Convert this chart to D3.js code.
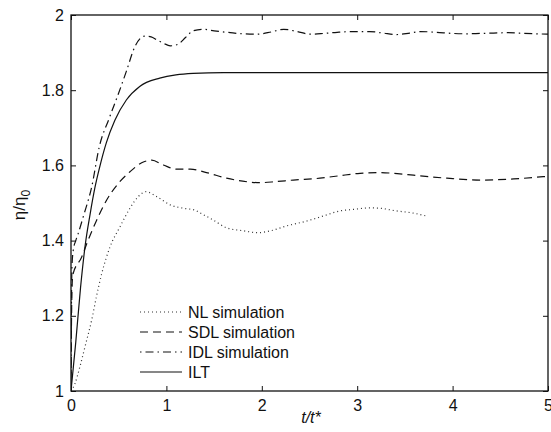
<!DOCTYPE html>
<html>
<head>
<meta charset="utf-8">
<script src="https://cdn.jsdelivr.net/npm/d3@7"></script>
<style>
  body { margin: 0; background: #fff; }
  svg { display: block; }
  text { font-family: "Liberation Sans", Arial, Helvetica, sans-serif; fill: #111; }
</style>
</head>
<body>
<svg id="chart" width="551" height="432"></svg>
<script>
// axis ticks
const xTicks = [0, 1, 2, 3, 4, 5];
const yTicks = [1, 1.2, 1.4, 1.6, 1.8, 2];

// NL simulation (dotted)
const nlT = [0, 0.042, 0.094, 0.147, 0.217, 0.27, 0.32, 0.41, 0.514, 0.618, 0.705, 0.786, 0.898, 1.04, 1.18, 1.3, 1.35, 1.49, 1.63, 1.81, 1.96, 2.09, 2.26, 2.47, 2.64, 2.82, 2.96, 3.13, 3.24, 3.41, 3.59, 3.73];
const nlV = [1.0, 1.02, 1.065, 1.118, 1.189, 1.255, 1.31, 1.384, 1.437, 1.486, 1.517, 1.53, 1.517, 1.495, 1.486, 1.481, 1.474, 1.455, 1.434, 1.426, 1.421, 1.426, 1.439, 1.452, 1.465, 1.479, 1.483, 1.487, 1.486, 1.479, 1.473, 1.465];

// SDL simulation (dashed)
const sdlT = [0, 0.004, 0.01, 0.02, 0.11, 0.17, 0.27, 0.374, 0.496, 0.618, 0.741, 0.846, 0.968, 1.108, 1.25, 1.42, 1.63, 1.8, 1.98, 2.15, 2.33, 2.61, 2.8, 3.03, 3.24, 3.42, 3.59, 3.94, 4.29, 4.64, 4.95, 5.0];
const sdlV = [1.0, 1.15, 1.27, 1.31, 1.355, 1.395, 1.455, 1.508, 1.552, 1.583, 1.607, 1.614, 1.601, 1.59, 1.59, 1.581, 1.566, 1.558, 1.554, 1.557, 1.561, 1.566, 1.572, 1.579, 1.581, 1.578, 1.574, 1.566, 1.561, 1.564, 1.57, 1.571];

// IDL simulation (dash-dot)
const idlT = [0, 0.004, 0.01, 0.024, 0.05, 0.077, 0.129, 0.217, 0.297, 0.4, 0.496, 0.58, 0.67, 0.776, 0.84, 0.9, 0.97, 1.04, 1.12, 1.2, 1.28, 1.38, 1.5, 1.67, 1.8, 1.95, 2.1, 2.23, 2.37, 2.51, 2.65, 2.79, 2.95, 3.13, 3.27, 3.41, 3.55, 3.66, 3.83, 4.0, 4.15, 4.29, 4.43, 4.57, 4.75, 5.0];
const idlV = [1.0, 1.2, 1.33, 1.375, 1.40, 1.42, 1.464, 1.543, 1.65, 1.725, 1.79, 1.85, 1.916, 1.944, 1.942, 1.934, 1.925, 1.918, 1.922, 1.94, 1.958, 1.962, 1.958, 1.953, 1.95, 1.949, 1.955, 1.962, 1.956, 1.949, 1.951, 1.954, 1.956, 1.956, 1.952, 1.948, 1.952, 1.956, 1.954, 1.951, 1.95, 1.951, 1.952, 1.953, 1.951, 1.949];

// ILT (solid)
const iltT = [0, 0.05, 0.1, 0.15, 0.2, 0.25, 0.3, 0.37, 0.46, 0.58, 0.72, 0.93, 1.1, 1.28, 1.6, 2, 3, 4, 5];
const iltV = [1.0, 1.13, 1.275, 1.39, 1.47, 1.54, 1.595, 1.66, 1.72, 1.774, 1.81, 1.832, 1.841, 1.845, 1.847, 1.847, 1.847, 1.847, 1.847];

const seriesNames = ["NL simulation", "SDL simulation", "IDL simulation", "ILT"];
const seriesT = [nlT, sdlT, idlT, iltT];
const seriesV = [nlV, sdlV, idlV, iltV];
const dashes = ["1,3", "8,5", "1.5,4,8,4", null];

const margin = { left: 71, top: 15, right: 3, bottom: 41 };
const svg = d3.select("#chart");
const W = 551, H = 432;
const x = d3.scaleLinear().domain([0, 5]).range([margin.left, W - margin.right]);
const y = d3.scaleLinear().domain([1, 2]).range([H - margin.bottom, margin.top]);

svg.append("defs").append("clipPath").attr("id", "clip")
  .append("rect")
  .attr("x", x(0)).attr("y", y(2))
  .attr("width", x(5) - x(0)).attr("height", y(1) - y(2));

const line = d3.line()
  .x(d => x(d[0]))
  .y(d => y(d[1]))
  .curve(d3.curveMonotoneX);

const plot = svg.append("g").attr("clip-path", "url(#clip)");
seriesT.forEach((ts, i) => {
  const pts = ts.map((t, j) => [t, seriesV[i][j]]);
  plot.append("path")
    .datum(pts)
    .attr("d", line)
    .attr("fill", "none")
    .attr("stroke", i === 0 ? "#333" : "#111")
    .attr("stroke-width", 1.2)
    .attr("stroke-dasharray", dashes[i]);
});

// axes, ticks inward on all four sides
const fs = 16;
svg.append("g")
  .attr("transform", `translate(0,${y(1)})`)
  .call(d3.axisBottom(x).tickValues(xTicks).tickSize(-5).tickPadding(9).tickFormat(d3.format("d")))
  .call(g => g.select(".domain").remove());
svg.append("g")
  .attr("transform", `translate(0,${y(2)})`)
  .call(d3.axisTop(x).tickValues(xTicks).tickSize(-5).tickFormat(""))
  .call(g => g.select(".domain").remove());
svg.append("g")
  .attr("transform", `translate(${x(0)},0)`)
  .call(d3.axisLeft(y).tickValues(yTicks).tickSize(-5).tickPadding(7).tickFormat(d => d3.format("")(+d.toFixed(1))))
  .call(g => g.select(".domain").remove());
svg.append("g")
  .attr("transform", `translate(${x(5)},0)`)
  .call(d3.axisRight(y).tickValues(yTicks).tickSize(-5).tickFormat(""))
  .call(g => g.select(".domain").remove());

svg.selectAll(".tick line").attr("stroke", "#111").attr("stroke-width", 1);
svg.selectAll(".tick text")
  .style("font-family", '"Liberation Sans", Arial, sans-serif')
  .style("font-size", fs + "px")
  .attr("fill", "#111");

svg.append("rect")
  .attr("x", x(0)).attr("y", y(2))
  .attr("width", x(5) - x(0)).attr("height", y(1) - y(2))
  .attr("fill", "none").attr("stroke", "#111").attr("stroke-width", 1.3);

// axis titles
svg.append("text")
  .attr("x", 311).attr("y", 423)
  .attr("text-anchor", "middle")
  .style("font-size", "16px").style("font-style", "italic")
  .text("t/t*");

const yl = svg.append("text")
  .attr("transform", "translate(25,205) rotate(-90)")
  .attr("text-anchor", "middle")
  .style("font-size", "17px");
yl.append("tspan").text("η/η");
yl.append("tspan").attr("dy", 5).style("font-size", "12px").text("0");

// legend
const legend = svg.append("g").attr("transform", "translate(140,312)");
seriesNames.forEach((name, i) => {
  const row = legend.append("g").attr("transform", `translate(0,${i * 20})`);
  row.append("line")
    .attr("x1", 0).attr("x2", 42).attr("y1", 0).attr("y2", 0)
    .attr("stroke", i === 0 ? "#333" : "#111")
    .attr("stroke-width", 1.2)
    .attr("stroke-dasharray", dashes[i]);
  row.append("text")
    .attr("x", 48).attr("y", 5.5)
    .style("font-size", "16px")
    .text(name);
});
</script>
</body>
</html>
